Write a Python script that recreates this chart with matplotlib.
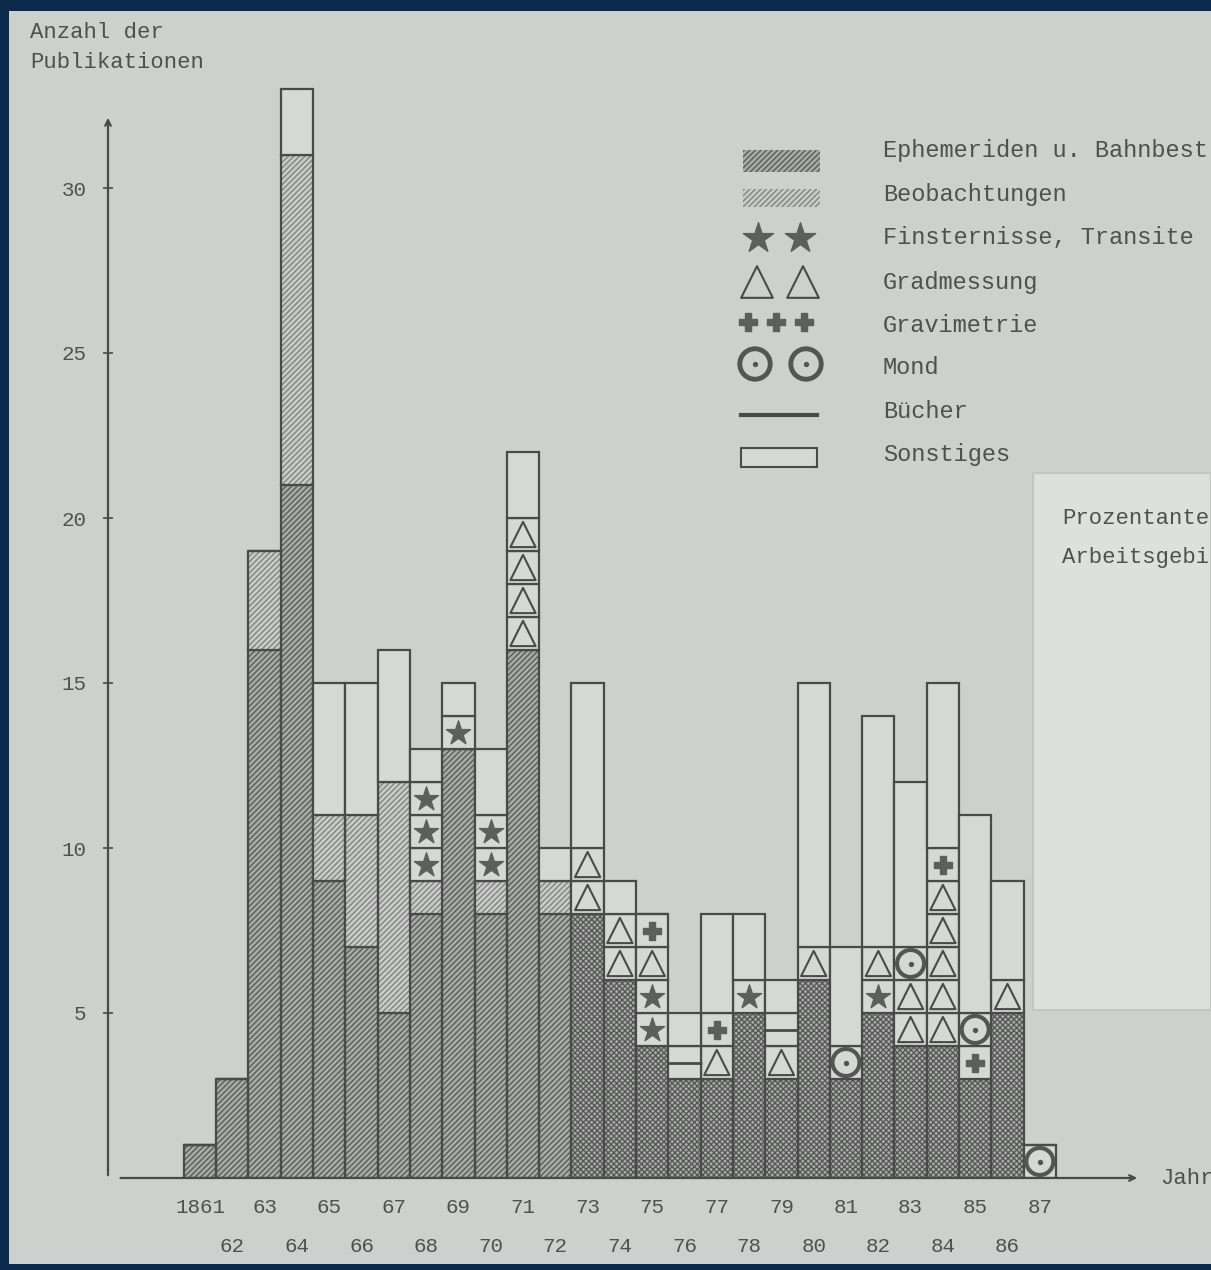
import numpy as np
import matplotlib.pyplot as plt
from matplotlib.patches import Rectangle

plt.rcParams['font.family'] = ['Liberation Mono', 'DejaVu Sans Mono']
plt.rcParams['hatch.linewidth'] = 0.9

years = np.arange(1861, 1888)
year_labels = ['1861', '62', '63', '64', '65', '66', '67', '68', '69', '70', '71', '72', '73', '74',
               '75', '76', '77', '78', '79', '80', '81', '82', '83', '84', '85', '86', '87']

# Anzahl der Publikationen je Arbeitsgebiet
ephemeriden = [1, 3, 16, 21, 9, 7, 5, 8, 13, 8, 16, 8, 8, 6, 4, 3, 3, 5, 3, 6, 3, 5, 4, 4, 3, 5, 0]
beobachtungen = [0, 0, 3, 10, 2, 4, 7, 1, 0, 1, 0, 1, 0, 0, 0, 0, 0, 0, 0, 0, 0, 0, 0, 0, 0, 0, 0]
finsternisse = [0, 0, 0, 0, 0, 0, 0, 3, 1, 2, 0, 0, 0, 0, 2, 0, 0, 1, 0, 0, 0, 1, 0, 0, 0, 0, 0]
gradmessung = [0, 0, 0, 0, 0, 0, 0, 0, 0, 0, 4, 0, 2, 2, 1, 0, 1, 0, 1, 1, 0, 1, 2, 5, 0, 1, 0]
gravimetrie = [0, 0, 0, 0, 0, 0, 0, 0, 0, 0, 0, 0, 0, 0, 1, 0, 1, 0, 0, 0, 0, 0, 0, 1, 1, 0, 0]
mond = [0, 0, 0, 0, 0, 0, 0, 0, 0, 0, 0, 0, 0, 0, 0, 0, 0, 0, 0, 0, 1, 0, 1, 0, 1, 0, 1]
buecher = [0, 0, 0, 0, 0, 0, 0, 0, 0, 0, 0, 0, 0, 0, 0, 1, 0, 0, 1, 0, 0, 0, 0, 0, 0, 0, 0]
sonstiges = [0, 0, 0, 2, 4, 4, 4, 1, 1, 2, 2, 1, 5, 1, 0, 1, 3, 2, 1, 8, 3, 7, 5, 5, 6, 3, 0]

legend_names = ['Ephemeriden u. Bahnbest', 'Beobachtungen', 'Finsternisse, Transite', 'Gradmessung',
                'Gravimetrie', 'Mond', 'Bücher', 'Sonstiges']

paper = '#cdd0cd'
cell = '#d5d8d5'
ink = '#4a4a4a'
txt = '#505050'

W, H = 1211, 1270
fig = plt.figure(figsize=(W / 100, H / 100), dpi=100, facecolor='#0c2a4c')

# hintergrund (papier) in pixelkoordinaten
bg = fig.add_axes([0, 0, 1, 1], zorder=0)
bg.set_xlim(0, W)
bg.set_ylim(H, 0)
bg.axis('off')
bg.add_patch(Rectangle((9, 11), W - 9, H - 17, facecolor=paper, edgecolor='none'))

# diagramm: x-pixel = 200 + 32.3*(jahr-1861), y-pixel = 1178 - 33*wert
px0, px1, py0, py1 = 108, 1140, 1178, 60
ax = fig.add_axes([px0 / W, (H - py0) / H, (px1 - px0) / W, (py0 - py1) / H], zorder=1)
ax.patch.set_alpha(0)
x_left = 1861 + (px0 - 200) / 32.3
x_right = 1861 + (px1 - 200) / 32.3
ax.set_xlim(x_left, x_right)
ax.set_ylim(0, (py0 - py1) / 33)
for s in ax.spines.values():
    s.set_visible(False)

bottom = np.zeros(len(years))

# Ephemeriden
eph_hatch = ['//////' if y < 1873 else 'xxxxxx' for y in years]
for x, v, h in zip(years, ephemeriden, eph_hatch):
    if v:
        ax.bar(x, v, width=1, bottom=0, facecolor='#a8aaa8', edgecolor='#555555', hatch=h, lw=0)
ax.bar(years, ephemeriden, width=1, bottom=bottom, fill=False, edgecolor=ink, lw=1.6)
bottom += ephemeriden

# Beobachtungen
ax.bar(years, beobachtungen, width=1, bottom=bottom, facecolor='#c9cbc9', edgecolor='#7d7d7d',
       hatch='//////', lw=0)
ax.bar(years, beobachtungen, width=1, bottom=bottom, fill=False, edgecolor=ink, lw=1.6)
bottom += beobachtungen


def unit_cells(counts, base):
    xs, ys = [], []
    for x, n, b in zip(years, counts, base):
        for k in range(n):
            xs.append(x)
            ys.append(b + k)
    return np.array(xs), np.array(ys, dtype=float)


def draw_cells(counts, base):
    xs, ys = unit_cells(counts, base)
    ax.bar(xs, 1, width=1, bottom=ys, facecolor=cell, edgecolor=ink, lw=1.6)
    return xs, ys + 0.5


xs, yc = draw_cells(finsternisse, bottom)
ax.scatter(xs, yc, marker='*', s=330, color='#5e5e5e', zorder=3)
bottom += finsternisse

xs, yc = draw_cells(gradmessung, bottom)
ax.scatter(xs, yc, marker='^', s=330, facecolor='none', edgecolor=ink, lw=1.5, zorder=3)
bottom += gradmessung

xs, yc = draw_cells(gravimetrie, bottom)
ax.scatter(xs, yc, marker='P', s=170, color='#5e5e5e', zorder=3)
bottom += gravimetrie

xs, yc = draw_cells(mond, bottom)
ax.scatter(xs, yc, marker='o', s=380, facecolor='none', edgecolor='#555555', lw=3, zorder=3)
ax.scatter(xs, yc, marker='o', s=8, color='#555555', zorder=3)
bottom += mond

xs, yc = draw_cells(buecher, bottom)
ax.scatter(xs, yc, marker='_', s=600, color=ink, lw=2, zorder=3)
bottom += buecher

ax.bar(years, sonstiges, width=1, bottom=bottom, facecolor=cell, edgecolor=ink, lw=1.6)
bottom += sonstiges

# achsen mit pfeilen
y_top = (py0 - 115) / 33
ax.annotate('', xy=(x_left, y_top), xytext=(x_left, 0),
            arrowprops=dict(arrowstyle='->', color=ink, lw=1.6), annotation_clip=False)
ax.annotate('', xy=(x_right, 0), xytext=(x_left + 0.3, 0),
            arrowprops=dict(arrowstyle='->', color=ink, lw=1.6), annotation_clip=False)

ax.set_xticks([])
ax.set_yticks([5, 10, 15, 20, 25, 30])
ax.set_yticklabels(['5', '10', '15', '20', '25', '30'], fontsize=15, color=txt)
ax.tick_params(axis='y', direction='inout', length=7, width=1.2, color=ink, pad=12)

for i, (x, lab) in enumerate(zip(years, year_labels)):
    yy = -0.88 if i % 2 == 0 else -2.09
    ax.text(x, yy, lab, ha='center', va='center', fontsize=15, color=txt, clip_on=False)

# beschriftungen
bg.text(30, 33, 'Anzahl der', fontsize=16, color=txt, va='center')
bg.text(30, 63, 'Publikationen', fontsize=16, color=txt, va='center')
bg.text(1160, 1178, 'Jahr', fontsize=16, color=txt, va='center')

# legende
rows = [150, 195, 237, 283, 325, 368, 412, 455]
for name, y in zip(legend_names, rows):
    bg.text(883, y, name, fontsize=17, color=txt, va='center')
bg.add_patch(Rectangle((743, 150), 77, 22, facecolor='#a8aaa8', edgecolor='#555555', hatch='//////', lw=0))
bg.add_patch(Rectangle((743, 189), 77, 18, facecolor='#c9cbc9', edgecolor='#7d7d7d', hatch='//////', lw=0))
bg.scatter([758, 800], [238, 238], marker='*', s=520, color='#5e5e5e')
bg.scatter([757, 803], [282, 282], marker='^', s=520, facecolor='none', edgecolor=ink, lw=1.5)
bg.scatter([748, 776, 804], [322, 322, 322], marker='P', s=170, color='#5e5e5e')
bg.scatter([755, 806], [364, 364], marker='o', s=480, facecolor='none', edgecolor='#555555', lw=3.5)
bg.scatter([755, 806], [364, 364], marker='o', s=8, color='#555555')
bg.plot([741, 817], [415, 415], color=ink, lw=3)
bg.add_patch(Rectangle((741, 448), 76, 19, facecolor=cell, edgecolor=ink, lw=1.5))

# darueberliegende seite rechts
bg.add_patch(Rectangle((1033, 473), W - 1033, 537, facecolor='#dde0dd', edgecolor='#c2c5c2', lw=1.5, zorder=4))
bg.text(1062, 518, 'Prozentante', fontsize=16, color=txt, va='center', zorder=5)
bg.text(1062, 558, 'Arbeitsgebi', fontsize=16, color=txt, va='center', zorder=5)

fig.savefig('out.png', dpi=100, facecolor=fig.get_facecolor())
